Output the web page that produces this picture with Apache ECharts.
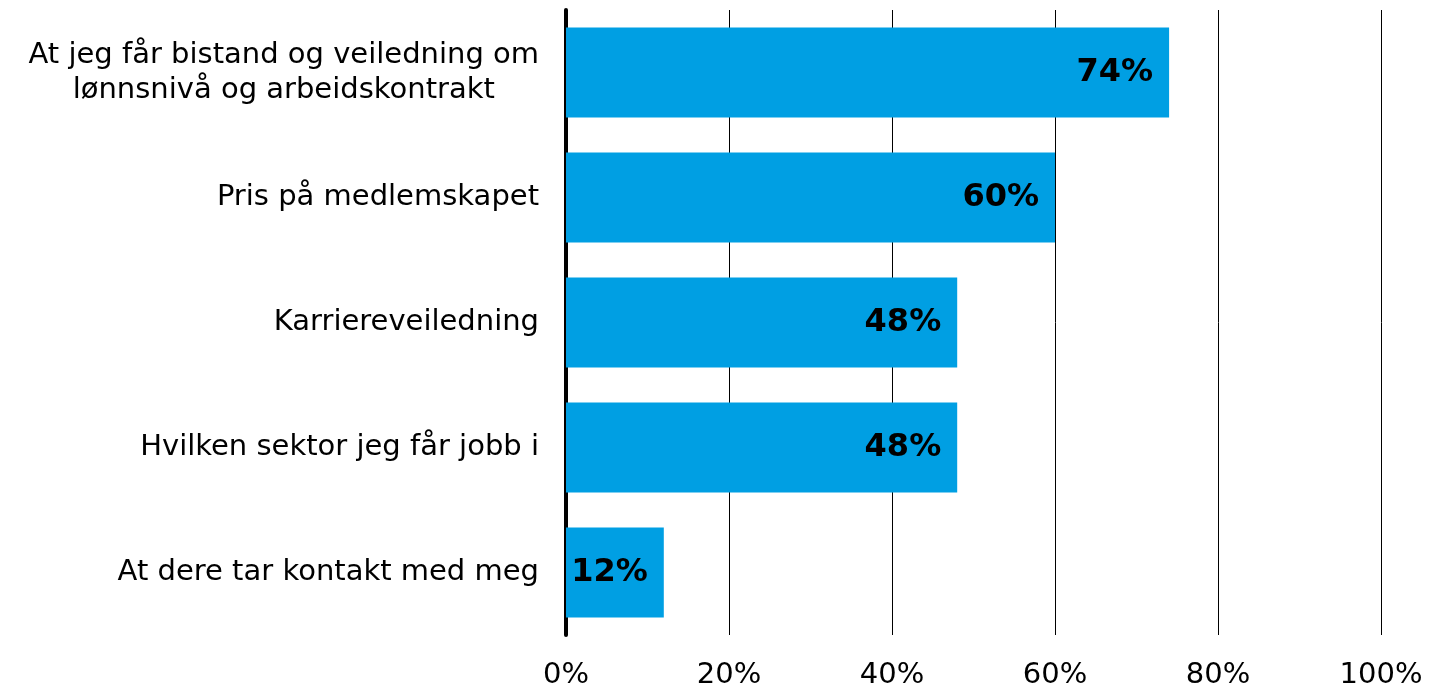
<!DOCTYPE html>
<html>
<head>
<meta charset="utf-8">
<script src="https://cdn.jsdelivr.net/npm/echarts@6/dist/echarts.min.js"></script>
<style>
  html, body { margin: 0; padding: 0; background: #fff; }
  #chart { width: 1432px; height: 690px; }
</style>
</head>
<body>
<div id="chart"></div>
<script>
// categories top to bottom
const categories = [
  'At jeg får bistand og veiledning om\nlønnsnivå og arbeidskontrakt',
  'Pris på medlemskapet',
  'Karriereveiledning',
  'Hvilken sektor jeg får jobb i',
  'At dere tar kontakt med meg'
]
const values = [74, 60, 48, 48, 12]
const xTicks = [0, 20, 40, 60, 80, 100]

const chart = echarts.init(document.getElementById('chart'))

chart.setOption({
  animation: false,
  grid: {
    left: 566,
    right: 51,
    top: 10,
    bottom: 55,
    containLabel: false
  },
  xAxis: {
    type: 'value',
    min: xTicks[0],
    max: xTicks[xTicks.length - 1],
    interval: 20,
    axisLine: { show: false },
    axisTick: { show: false },
    splitLine: { show: true, lineStyle: { color: '#000', width: 1 } },
    axisLabel: {
      fontFamily: 'DejaVu Sans',
      fontSize: 29,
      color: '#000',
      margin: 26,
      formatter: v => v + '%'
    }
  },
  yAxis: {
    type: 'category',
    inverse: true,
    data: categories,
    axisLine: { show: true, onZero: false, lineStyle: { color: '#000', width: 4 } },
    axisTick: { show: false },
    axisLabel: {
      fontFamily: 'DejaVu Sans',
      fontSize: 29,
      color: '#000',
      margin: 27,
      lineHeight: 35,
      formatter: v => v.split('\n').map(s => '{c|' + s + '}').join('\n'),
      rich: {
        c: {
          fontFamily: 'DejaVu Sans',
          fontSize: 29,
          color: '#000',
          lineHeight: 35,
          align: 'center'
        }
      }
    }
  },
  series: [{
    type: 'bar',
    data: values,
    barWidth: '72%',
    itemStyle: { color: '#009FE3' },
    label: {
      show: true,
      position: 'insideRight',
      distance: 16,
      fontFamily: 'DejaVu Sans',
      fontWeight: 'bold',
      fontSize: 32,
      color: '#000',
      formatter: p => p.value + '%'
    }
  }]
})
</script>
</body>
</html>
